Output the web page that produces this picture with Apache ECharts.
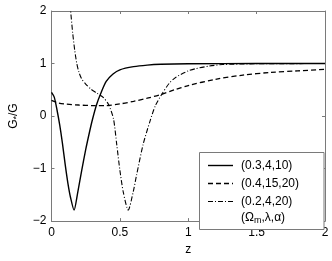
<!DOCTYPE html>
<html>
<head>
<meta charset="utf-8">
<script src="https://cdn.jsdelivr.net/npm/echarts@6/dist/echarts.min.js"></script>
<style>html,body{margin:0;padding:0;background:#fff}#c{width:332px;height:261px}</style>
</head>
<body>
<div id="c"></div>
<script>
// Series (Ωm, λ, α) = (0.3,4,10) — solid
const zA = [0, 0.02, 0.04, 0.06, 0.08, 0.10, 0.12, 0.14, 0.165, 0.19, 0.22, 0.25, 0.28, 0.30, 0.33, 0.36, 0.40, 0.45, 0.50, 0.60, 0.70, 0.80, 1.0, 1.5, 2.0];
const gA = [0.45, 0.36, 0.12, -0.17, -0.52, -0.92, -1.28, -1.56, -1.79, -1.48, -1.05, -0.64, -0.28, -0.06, 0.22, 0.43, 0.66, 0.80, 0.88, 0.94, 0.97, 0.985, 0.995, 1.0, 1.0];
// (0.4,15,20) — dashed
const zB = [0, 0.05, 0.1, 0.2, 0.3, 0.4, 0.5, 0.6, 0.7, 0.8, 0.9, 1.0, 1.2, 1.4, 1.6, 1.8, 2.0];
const gB = [0.30, 0.25, 0.23, 0.21, 0.20, 0.20, 0.23, 0.28, 0.34, 0.41, 0.50, 0.58, 0.70, 0.78, 0.83, 0.86, 0.89];
// (0.2,4,20) — dash-dot
const zC = [0.125, 0.14, 0.155, 0.17, 0.185, 0.20, 0.22, 0.25, 0.285, 0.33, 0.38, 0.417, 0.453, 0.477, 0.50, 0.525, 0.561, 0.597, 0.62, 0.67, 0.72, 0.76, 0.81, 0.86, 0.91, 1.0, 1.05, 1.15, 1.25, 1.5, 2.0];
const gC = [2.5, 2.0, 1.58, 1.25, 1.0, 0.84, 0.71, 0.61, 0.52, 0.44, 0.35, 0.22, -0.05, -0.54, -1.03, -1.45, -1.79, -1.45, -1.15, -0.54, -0.10, 0.20, 0.43, 0.62, 0.74, 0.86, 0.90, 0.95, 0.98, 0.995, 1.0];
const seriesNames = ['(0.3,4,10)', '(0.4,15,20)', '(0.2,4,20)'];
const xTicks = [0, 0.5, 1, 1.5, 2];
const yTicks = [-2, -1, 0, 1, 2];

const font = 'Liberation Sans, Arial, Helvetica, sans-serif';
const frame = '#7a7a7a';
const toPts = (z, g) => z.map((v, i) => [v, g[i]]);
const fmtY = v => (v < 0 ? '\u2212' + Math.abs(v) : String(v));

const chart = echarts.init(document.getElementById('c'), null, {renderer: 'canvas'});
const axisCommon = {
  axisLine: {show: true, onZero: false, lineStyle: {color: frame, width: 1}},
  axisTick: {show: true, inside: true, length: 3, lineStyle: {color: frame}},
  splitLine: {show: false}
};
chart.setOption({
  animation: false,
  grid: {left: 47, top: 11, width: 278, height: 219},
  xAxis: [
    Object.assign({type: 'value', min: 0, max: 2, interval: 0.5, position: 'bottom',
      axisLabel: {color: '#000', fontSize: 12, fontFamily: font, margin: 6,
        formatter: v => xTicks.includes(v) ? String(v) : ''},
      name: 'z', nameLocation: 'middle', nameGap: 19,
      nameTextStyle: {color: '#000', fontSize: 12, fontFamily: font}}, axisCommon),
    Object.assign({type: 'value', min: 0, max: 2, interval: 0.5, position: 'top',
      axisLabel: {show: false}}, axisCommon)
  ],
  yAxis: [
    Object.assign({type: 'value', min: -2, max: 2, interval: 1, position: 'left',
      axisLabel: {color: '#000', fontSize: 12, fontFamily: font, margin: 5,
        formatter: v => yTicks.includes(v) ? fmtY(v) : ''},
      name: '{a|G}{s|*}{a|/G}', nameLocation: 'middle', nameGap: 30,
      nameTextStyle: {color: '#000', fontSize: 12, fontFamily: font,
        rich: {a: {fontSize: 12, fontFamily: font, color: '#000'},
               s: {fontSize: 9, fontFamily: font, color: '#000', verticalAlign: 'bottom', padding: [6, 0, 0, 0]}}}}, axisCommon),
    Object.assign({type: 'value', min: -2, max: 2, interval: 1, position: 'right',
      axisLabel: {show: false}}, axisCommon)
  ],
  series: [
    {name: seriesNames[0], type: 'line', data: toPts(zA, gA), showSymbol: false, smooth: 0.25, clip: true,
      lineStyle: {color: '#000', width: 1.4, type: 'solid'}},
    {name: seriesNames[1], type: 'line', data: toPts(zB, gB), showSymbol: false, smooth: 0.3, clip: true,
      lineStyle: {color: '#000', width: 1.3, type: [5, 3]}},
    {name: seriesNames[2], type: 'line', data: toPts(zC, gC), showSymbol: false, smooth: 0.25, clip: true,
      lineStyle: {color: '#000', width: 1.1, type: [5, 2, 1, 2]}}
  ],
  graphic: [
    {type: 'rect', shape: {x: 199.5, y: 152.5, width: 124.5, height: 77}, z: 10,
      style: {fill: '#fff', stroke: frame, lineWidth: 1}},
    {type: 'line', shape: {x1: 208, y1: 165.5, x2: 233, y2: 165.5}, z: 11, style: {stroke: '#000', lineWidth: 1.4}},
    {type: 'line', shape: {x1: 208, y1: 183.5, x2: 233, y2: 183.5}, z: 11, style: {stroke: '#000', lineWidth: 1.3, lineDash: [5, 3]}},
    {type: 'line', shape: {x1: 208, y1: 201.5, x2: 233, y2: 201.5}, z: 11, style: {stroke: '#000', lineWidth: 1.1, lineDash: [5, 2, 1, 2]}},
    {type: 'text', x: 241, y: 166, z: 11, style: {text: seriesNames[0], fill: '#000', font: '12px ' + font, textVerticalAlign: 'middle'}},
    {type: 'text', x: 241, y: 184, z: 11, style: {text: seriesNames[1], fill: '#000', font: '12px ' + font, textVerticalAlign: 'middle'}},
    {type: 'text', x: 241, y: 202, z: 11, style: {text: seriesNames[2], fill: '#000', font: '12px ' + font, textVerticalAlign: 'middle'}},
    {type: 'text', x: 241, y: 217.5, z: 11, style: {text: '(Ω{s|m},λ,α)', fill: '#000', font: '12px ' + font, textVerticalAlign: 'middle',
      rich: {s: {fontSize: 9, fontFamily: font, fill: '#000', padding: [7, 0, 0, 0]}}}}
  ]
});
</script>
</body>
</html>
